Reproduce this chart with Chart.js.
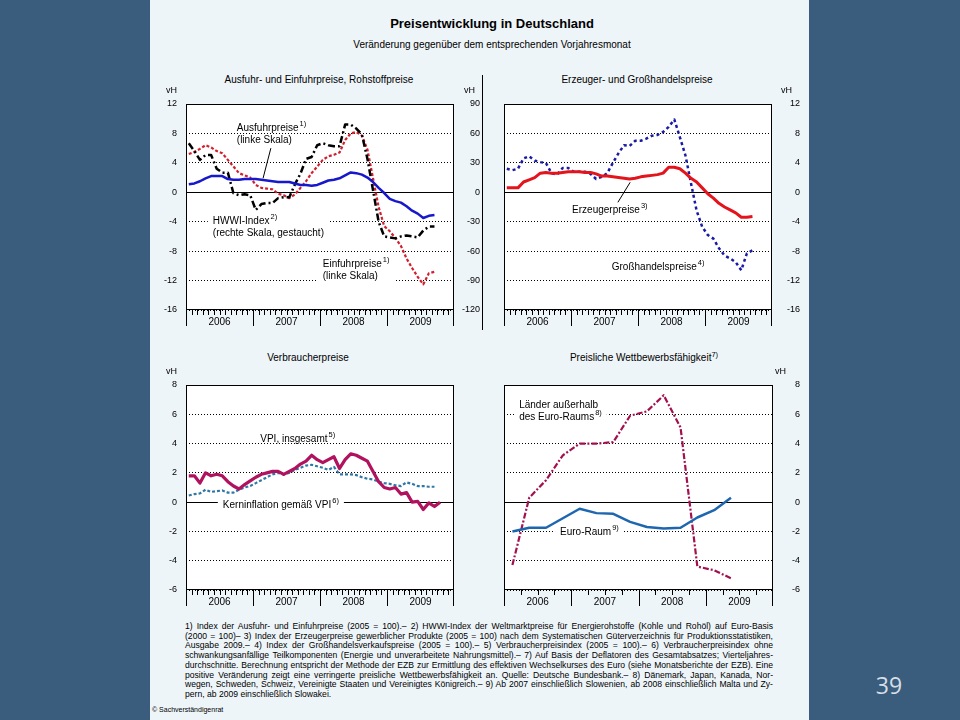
<!DOCTYPE html>
<html lang="de">
<head>
<meta charset="utf-8">
<title>Preisentwicklung in Deutschland</title>
<script src="https://cdn.jsdelivr.net/npm/chart.js@4.4.1/dist/chart.umd.min.js"></script>
<style>
  html, body { margin: 0; padding: 0; }
  body { width: 960px; height: 720px; background: #3a5d7e; position: relative; overflow: hidden;
         font-family: "Liberation Sans", Arial, sans-serif; color: #000; }
  #page { position: absolute; left: 150px; top: 0; width: 659px; height: 720px; background: #eef5f9; }
  .abs { position: absolute; white-space: nowrap; }
  .center { text-align: center; }
  #title { left: 292px; top: 17px; width: 400px; font-size: 13px; line-height: 13px; font-weight: bold; }
  #subtitle { left: 292px; top: 40px; width: 400px; font-size: 10px; line-height: 10px; }
  .ptitle { width: 300px; font-size: 10px; line-height: 10px; }
  sup { font-size: 7.5px; line-height: 0; vertical-align: 4px; }
  canvas { position: absolute; }
  #sep { position: absolute; left: 482px; top: 75px; width: 1px; height: 255px; background: #000; }
  #notes { left: 185px; top: 622px; width: 588px; font-size: 8.6px; line-height: 9.7px; }
  #notes div { text-align: justify; text-align-last: justify; white-space: nowrap; }
  #notes div.last { text-align-last: left; }
  #copy { left: 152px; top: 706px; font-size: 7px; line-height: 7px; }
  #pno { left: 868px; top: 674px; width: 42px; font-family: "Open Sans", sans-serif; font-size: 23px;
         line-height: 23px; color: #d6dee6; }
</style>
</head>
<body>
<div id="page"></div>
<div id="title" class="abs center">Preisentwicklung in Deutschland</div>
<div id="subtitle" class="abs center">Veränderung gegenüber dem entsprechenden Vorjahresmonat</div>

<div class="abs center ptitle" style="left:169px; top:75px">Ausfuhr- und Einfuhrpreise, Rohstoffpreise</div>
<div class="abs center ptitle" style="left:487px; top:75px">Erzeuger- und Großhandelspreise</div>
<div class="abs center ptitle" style="left:158px; top:353px">Verbraucherpreise</div>
<div class="abs center ptitle" style="left:494px; top:353px">Preisliche Wettbewerbsfähigkeit<sup>7)</sup></div>
<div id="sep"></div>

<canvas id="c1" width="330" height="244" style="left:150px; top:84px"></canvas>
<canvas id="c2" width="310" height="244" style="left:490px; top:84px"></canvas>
<canvas id="c3" width="330" height="243" style="left:150px; top:365px"></canvas>
<canvas id="c4" width="310" height="243" style="left:490px; top:365px"></canvas>

<div id="notes" class="abs">
  <div>1) Index der Ausfuhr- und Einfuhrpreise (2005 = 100).– 2) HWWI-Index der Weltmarktpreise für Energierohstoffe (Kohle und Rohöl) auf Euro-Basis</div>
  <div>(2000 = 100)– 3) Index der Erzeugerpreise gewerblicher Produkte (2005 = 100) nach dem Systematischen Güterverzeichnis für Produktionsstatistiken,</div>
  <div>Ausgabe 2009.– 4) Index der Großhandelsverkaufspreise (2005 = 100).– 5) Verbraucherpreisindex (2005 = 100).– 6) Verbraucherpreisindex ohne</div>
  <div>schwankungsanfällige Teilkomponenten (Energie und unverarbeitete Nahrungsmittel).– 7) Auf Basis der Deflatoren des Gesamtabsatzes; Vierteljahres-</div>
  <div>durchschnitte. Berechnung entspricht der Methode der EZB zur Ermittlung des effektiven Wechselkurses des Euro (siehe Monatsberichte der EZB). Eine</div>
  <div>positive Veränderung zeigt eine verringerte preisliche Wettbewerbsfähigkeit an. Quelle: Deutsche Bundesbank.– 8) Dänemark, Japan, Kanada, Nor-</div>
  <div>wegen, Schweden, Schweiz, Vereinigte Staaten und Vereinigtes Königreich.– 9) Ab 2007 einschließlich Slowenien, ab 2008 einschließlich Malta und Zy-</div>
  <div class="last">pern, ab 2009 einschließlich Slowakei.</div>
</div>
<div id="copy" class="abs">© Sachverständigenrat</div>
<div id="pno" class="abs center">39</div>

<script>
const FONT = '"Liberation Sans", Arial, sans-serif';
const MONTHS = 48;
const LINE_GAP = 11.5;

const years = ["2006", "2007", "2008", "2009"];

// monthly values, Jan 2006 onwards (vH)
const ausfuhrpreise = [1.1, 1.2, 1.5, 1.9, 2.2, 2.2, 2.2, 1.8, 1.7, 1.7, 1.8, 1.8,
  1.8, 1.7, 1.6, 1.5, 1.4, 1.4, 1.4, 1.2, 1.0, 1.0, 0.9, 1.0,
  1.3, 1.6, 1.7, 1.9, 2.3, 2.7, 2.6, 2.4, 2.0, 1.4, 0.6, -0.1,
  -0.9, -1.2, -1.4, -1.9, -2.5, -2.9, -3.5, -3.2, -3.1];
const einfuhrpreise = [5.2, 5.5, 5.9, 6.4, 6.1, 5.6, 5.3, 4.4, 3.5, 2.6, 2.3, 2.0,
  1.0, 0.6, 0.5, 0.4, -0.2, -0.4, -0.8, -0.3, 0.6, 1.5, 2.6, 3.5,
  4.4, 4.9, 5.1, 5.4, 7.1, 8.0, 8.2, 7.7, 5.8, 1.9, -2.0, -4.6,
  -5.3, -6.2, -7.3, -9.0, -10.3, -11.5, -12.5, -11.0, -10.8];
// HWWI-Index, rechte Skala
const hwwiIndex = [50, 42, 33, 38, 38, 24, 20, 20, -1, -3, -2, -3,
  -18, -12, -11, -11, -6, -5, -5, 8, 19, 34, 36, 48,
  50, 48, 47, 47, 69, 69, 65, 59, 34, 2, -30, -45,
  -46, -47, -45, -44, -45, -46, -39, -35, -35];

const erzeugerpreise = [0.6, 0.6, 0.6, 1.4, 1.7, 2.0, 2.6, 2.7, 2.6, 2.6, 2.7, 2.8,
  2.8, 2.8, 2.7, 2.7, 2.5, 2.2, 2.2, 2.1, 2.0, 1.9, 1.8, 1.9,
  2.1, 2.2, 2.3, 2.4, 2.6, 3.4, 3.4, 3.2, 2.6, 1.9, 1.4, 0.6,
  -0.2, -0.8, -1.5, -2.0, -2.4, -2.8, -3.4, -3.4, -3.3];
const grosshandelspreise = [3.2, 3.0, 3.2, 4.6, 4.9, 4.3, 4.1, 4.0, 2.6, 2.4, 3.3, 3.3,
  2.8, 2.8, 2.8, 2.5, 1.8, 2.1, 2.6, 4.0, 5.3, 6.4, 6.3, 7.0,
  7.0, 7.3, 7.7, 7.8, 8.2, 8.9, 9.9, 7.5, 5.0, 1.2, -2.5, -4.7,
  -5.8, -6.3, -7.6, -8.6, -9.0, -9.5, -10.6, -8.3, -7.9];

const vpiInsgesamt = [1.8, 1.8, 1.3, 2.0, 1.8, 1.9, 1.8, 1.4, 1.1, 0.9, 1.2, 1.45,
  1.7, 1.9, 2.0, 2.1, 2.1, 1.9, 2.1, 2.3, 2.6, 2.8, 3.2, 2.9,
  2.7, 2.9, 3.1, 2.3, 2.9, 3.3, 3.2, 3.0, 2.8, 2.1, 1.4, 1.0,
  0.9, 1.0, 0.55, 0.65, 0.0, 0.05, -0.5, -0.05, -0.3, 0.0];
const kerninflation = [0.45, 0.55, 0.6, 0.85, 0.7, 0.75, 0.8, 0.65, 0.65, 0.85, 1.0, 1.1,
  1.3, 1.5, 1.7, 1.9, 2.0, 1.9, 2.0, 2.2, 2.35, 2.5, 2.55, 2.45,
  2.35, 2.2, 2.4, 1.9, 1.9, 1.9, 1.85, 1.7, 1.6, 1.55, 1.4, 1.3,
  1.25, 1.15, 1.1, 1.35, 1.25, 1.1, 1.1, 1.05, 1.05];

// quarterly values, Q1 2006 onwards (vH)
const euroRaum = [-2.0, -1.75, -1.75, -1.1, -0.45, -0.75, -0.8, -1.35, -1.7, -1.8, -1.75, -1.05, -0.55, 0.3];
const ausserhalbEuroRaum = [-4.3, 0.3, 1.5, 3.2, 4.0, 4.0, 4.1, 5.9, 6.2, 7.3, 5.1, -4.4, -4.65, -5.2];

function monthly(values) {
  return values.map((v, i) => ({ x: i + 0.5, y: v }));
}
function quarterly(values) {
  return values.map((v, i) => ({ x: i * 3 + 1.5, y: v }));
}

function line(data, color, width, dash, axis) {
  return {
    data: data, borderColor: color, borderWidth: width, borderDash: dash || [],
    yAxisID: axis || 'y', pointRadius: 0, tension: 0, fill: false, borderJoinStyle: 'round'
  };
}

function yAxis(position, min, max, step, padding, width, grid) {
  return {
    position: position, min: min, max: max,
    ticks: { stepSize: step, padding: padding, color: '#000', font: { family: FONT, size: 9 },
             crossAlign: position === 'right' ? 'far' : 'near' },
    grid: grid ? { color: '#000', lineWidth: 1, drawTicks: false }
               : { drawOnChartArea: false, drawTicks: false },
    border: { display: false, dash: ctx => (ctx.tick && ctx.tick.value === 0 ? [] : [1, 2]) },
    afterFit: s => { s.width = width; }
  };
}

function notePos(chart, n) {
  const ctx = chart.ctx;
  let w = 0;
  n.lines.forEach(l => {
    ctx.font = '10px ' + FONT;
    let lw = ctx.measureText(l[0]).width;
    if (l[1]) { ctx.font = '7.5px ' + FONT; lw += ctx.measureText(l[1]).width + 1; }
    w = Math.max(w, lw);
  });
  return {
    x: chart.scales.x.getPixelForValue(n.x),
    y: chart.scales[n.axis || 'y'].getPixelForValue(n.y),
    w: w
  };
}

const panelPlugin = {
  id: 'panel',
  beforeDraw(chart) {
    const { ctx, chartArea: a } = chart;
    ctx.save();
    ctx.fillStyle = '#ffffff';
    ctx.fillRect(a.left, a.top, a.right - a.left, a.bottom - a.top);
    ctx.restore();
  },
  beforeDatasetsDraw(chart, args, opts) {
    // white patches where labels break the grid lines
    const ctx = chart.ctx;
    (opts.notes || []).forEach(n => {
      if (!n.box) return;
      const p = notePos(chart, n);
      ctx.save();
      ctx.fillStyle = '#ffffff';
      ctx.fillRect(p.x - 5, p.y - 7, p.w + 10, (n.lines.length - 1) * LINE_GAP + 14);
      ctx.restore();
    });
  },
  afterDatasetsDraw(chart, args, opts) {
    const ctx = chart.ctx;
    ctx.save();
    ctx.fillStyle = '#000';
    ctx.strokeStyle = '#000';
    ctx.lineWidth = 1;
    ctx.textAlign = 'left';
    ctx.textBaseline = 'middle';
    (opts.notes || []).forEach(n => {
      const p = notePos(chart, n);
      n.lines.forEach((l, i) => {
        const y = p.y + i * LINE_GAP;
        ctx.font = '10px ' + FONT;
        ctx.fillText(l[0], p.x, y);
        if (l[1]) {
          const tw = ctx.measureText(l[0]).width;
          ctx.font = '7.5px ' + FONT;
          ctx.fillText(l[1], p.x + tw + 1, y - 4);
        }
      });
      if (n.leader) {
        const xs = chart.scales.x, ys = chart.scales[n.axis || 'y'];
        ctx.beginPath();
        ctx.moveTo(xs.getPixelForValue(n.leader[0]), ys.getPixelForValue(n.leader[1]));
        ctx.lineTo(xs.getPixelForValue(n.leader[2]), ys.getPixelForValue(n.leader[3]));
        ctx.stroke();
      }
    });
    ctx.restore();
  },
  afterDraw(chart, args, opts) {
    const { ctx, chartArea: a } = chart;
    const xs = chart.scales.x;
    ctx.save();
    ctx.strokeStyle = '#000';
    ctx.lineWidth = 1;
    const l = Math.round(a.left), t = Math.round(a.top);
    const r = Math.round(a.right), b = Math.round(a.bottom);
    ctx.strokeRect(l + 0.5, t + 0.5, r - l - 1, b - t - 1);

    // month / quarter ticks and year separators under the plot
    ctx.beginPath();
    for (let m = 0; m <= MONTHS; m += opts.tickStep) {
      let px = Math.round(xs.getPixelForValue(m));
      if (m === MONTHS) px -= 1;
      const len = m % 12 === 0 ? 16 : 5;
      ctx.moveTo(px + 0.5, b);
      ctx.lineTo(px + 0.5, b + len);
    }
    ctx.stroke();

    ctx.fillStyle = '#000';
    ctx.font = '10px ' + FONT;
    ctx.textAlign = 'center';
    ctx.textBaseline = 'middle';
    years.forEach((yr, i) => ctx.fillText(yr, xs.getPixelForValue(i * 12 + 6), b + 12));

    // "vH" over the value axes
    ctx.font = '9px ' + FONT;
    ctx.textAlign = 'right';
    (opts.vh || []).forEach(id => {
      const s = chart.scales[id];
      let x;
      if (s.position === 'left') {
        x = s.right - s.options.ticks.padding;
      } else {
        const widest = Math.max(...s.ticks.map(tk => ctx.measureText(String(tk.label)).width));
        x = s.left + s.options.ticks.padding + widest;
      }
      ctx.fillText('vH', x, a.top - 13);
    });
    ctx.restore();
  }
};

function makePanel(id, datasets, scales, padding, panel) {
  return new Chart(document.getElementById(id), {
    type: 'line',
    data: { datasets: datasets },
    options: {
      responsive: false,
      animation: false,
      layout: { padding: padding },
      scales: Object.assign({ x: { type: 'linear', min: 0, max: MONTHS, display: false } }, scales),
      plugins: { legend: { display: false }, tooltip: { enabled: false }, panel: panel }
    },
    plugins: [panelPlugin]
  });
}

// Ausfuhr- und Einfuhrpreise, Rohstoffpreise
makePanel('c1', [
  line(monthly(ausfuhrpreise), '#1717cc', 2.5),
  line(monthly(hwwiIndex), '#000000', 2.5, [7, 3, 2, 3], 'y2'),
  line(monthly(einfuhrpreise), '#d21f2e', 2.2, [3, 2])
], {
  y: yAxis('left', -16, 12, 4, 9, 36, true),
  y2: yAxis('right', -120, 90, 30, 3, 26, false)
}, { top: 20, bottom: 18, left: 0, right: 0 }, {
  tickStep: 1,
  vh: ['y', 'y2'],
  notes: [
    { x: 9.1, y: 8.7, lines: [['Ausfuhrpreise', '1)'], ['(linke Skala)']], leader: [15.2, 6.0, 13.8, 1.9] },
    { x: 4.8, y: -3.95, lines: [['HWWI-Index', '2)'], ['(rechte Skala, gestaucht)']], box: true },
    { x: 24.5, y: -9.8, lines: [['Einfuhrpreise', '1)'], ['(linke Skala)']], box: true }
  ]
});

// Erzeuger- und Großhandelspreise
makePanel('c2', [
  line(monthly(erzeugerpreise), '#e3141b', 3),
  line(monthly(grosshandelspreise), '#1a1aa8', 2.5, [3, 3])
], {
  y: yAxis('right', -16, 12, 4, 7, 28, true)
}, { top: 20, bottom: 18, left: 14, right: 0 }, {
  tickStep: 1,
  vh: ['y'],
  notes: [
    { x: 12.2, y: -2.45, lines: [['Erzeugerpreise', '3)']], leader: [20.4, -1.36, 22.6, 1.36] },
    { x: 19.3, y: -10.2, lines: [['Großhandelspreise', '4)']] }
  ]
});

// Verbraucherpreise
makePanel('c3', [
  line(monthly(vpiInsgesamt), '#b0125e', 3.2),
  line(monthly(kerninflation), '#2f78a6', 2.2, [3, 2])
], {
  y: yAxis('left', -6, 8, 2, 9, 36, true)
}, { top: 20, bottom: 18, left: 0, right: 26 }, {
  tickStep: 1,
  vh: ['y'],
  notes: [
    { x: 13.3, y: 4.3, lines: [['VPI, insgesamt', '5)']] },
    { x: 6.6, y: -0.2, lines: [['Kerninflation gemäß VPI', '6)']], box: true }
  ]
});

// Preisliche Wettbewerbsfähigkeit
makePanel('c4', [
  line(quarterly(euroRaum), '#1e66b0', 2.5),
  line(quarterly(ausserhalbEuroRaum), '#a3104f', 2.2, [6, 2, 2, 2])
], {
  y: yAxis('right', -6, 8, 2, 5, 27, true)
}, { top: 20, bottom: 18, left: 14, right: 0 }, {
  tickStep: 3,
  vh: ['y'],
  notes: [
    { x: 2.7, y: 6.6, lines: [['Länder außerhalb'], ['des Euro-Raums', '8)']], box: true },
    { x: 10.0, y: -2.05, lines: [['Euro-Raum', '9)']], box: true }
  ]
});
</script>
</body>
</html>
